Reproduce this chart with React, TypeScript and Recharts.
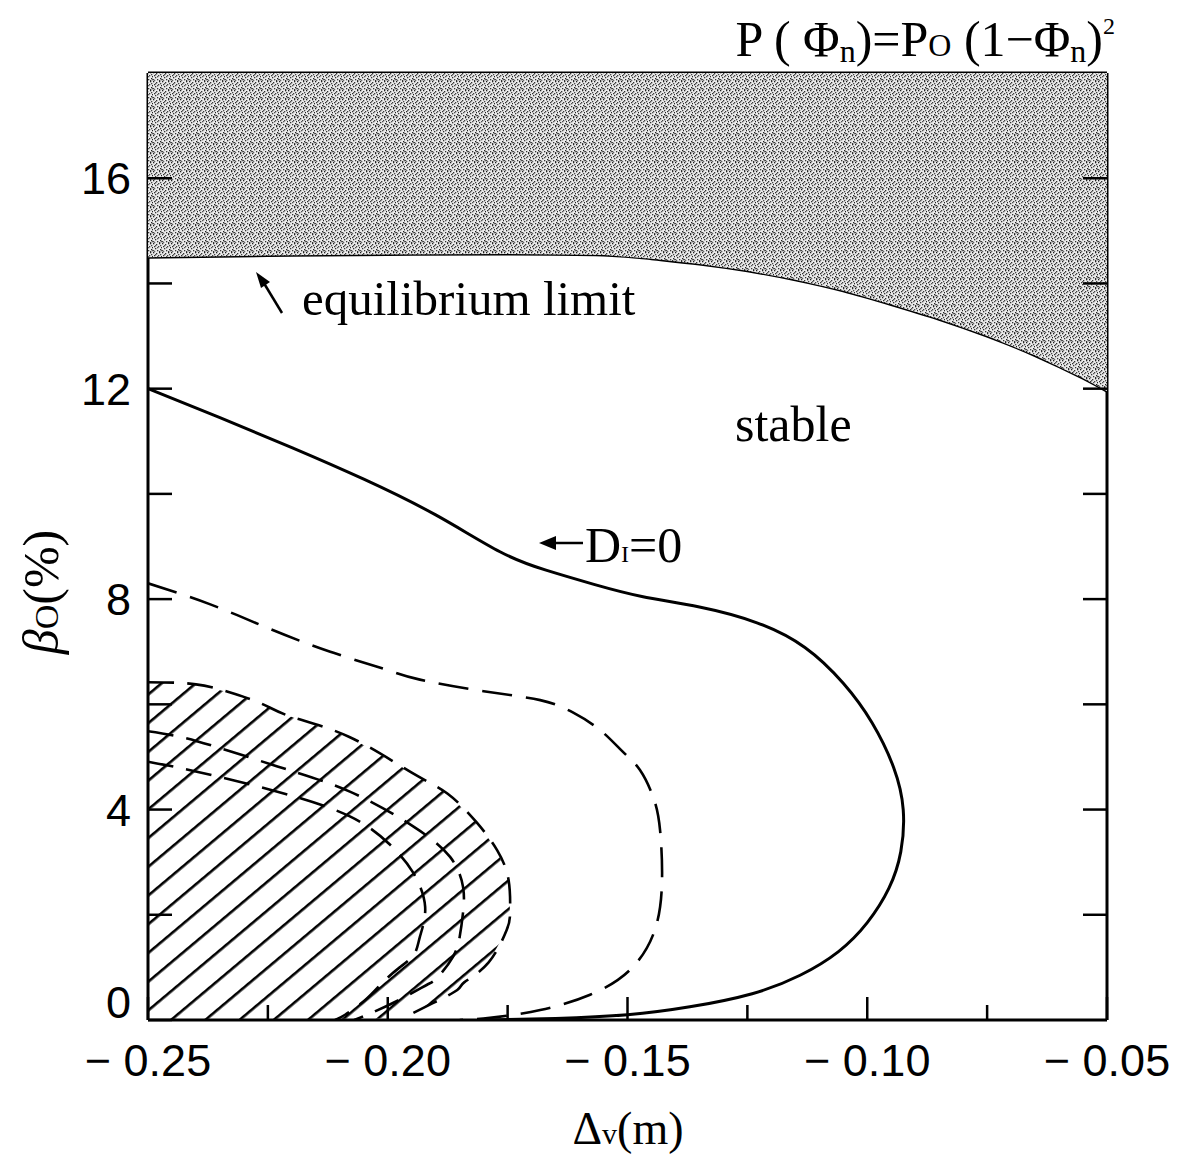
import React from 'react';
import { ComposedChart, XAxis, YAxis, Line, Scatter, ReferenceLine } from 'recharts';

// ---- data ----
const xTicks = [-0.25, -0.225, -0.2, -0.175, -0.15, -0.125, -0.1, -0.075, -0.05];
const xLabelTicks = [-0.25, -0.2, -0.15, -0.1, -0.05];
const xTickText = ['− 0.25', '− 0.20', '− 0.15', '− 0.10', '− 0.05'];
const yTicks = [0, 2, 4, 6, 8, 10, 12, 14, 16];
const yLabelTicks = [0, 4, 8, 12, 16];

const equilibriumLimit = [
  { x: -0.25, y: 14.5 }, { x: -0.225, y: 14.53 }, { x: -0.2, y: 14.55 }, { x: -0.175, y: 14.56 },
  { x: -0.155, y: 14.54 }, { x: -0.145, y: 14.47 }, { x: -0.135, y: 14.37 }, { x: -0.125, y: 14.24 },
  { x: -0.115, y: 14.07 }, { x: -0.105, y: 13.86 }, { x: -0.095, y: 13.6 }, { x: -0.085, y: 13.32 },
  { x: -0.075, y: 13.0 }, { x: -0.065, y: 12.63 }, { x: -0.055, y: 12.2 }, { x: -0.05, y: 11.95 },
];
const unstableTopCorners = [{ x: -0.05, y: 18 }, { x: -0.25, y: 18 }];

const diZero = [
  { x: -0.25, y: 12.0 }, { x: -0.235, y: 11.45 }, { x: -0.22, y: 10.88 }, { x: -0.205, y: 10.28 },
  { x: -0.19, y: 9.6 }, { x: -0.1766, y: 8.9 }, { x: -0.167, y: 8.55 }, { x: -0.157, y: 8.28 },
  { x: -0.147, y: 8.05 }, { x: -0.135, y: 7.85 }, { x: -0.123, y: 7.55 }, { x: -0.113, y: 7.08 },
  { x: -0.105, y: 6.4 }, { x: -0.099, y: 5.65 }, { x: -0.0945, y: 4.8 }, { x: -0.0925, y: 4.0 },
  { x: -0.093, y: 3.2 }, { x: -0.0955, y: 2.5 }, { x: -0.1, y: 1.85 }, { x: -0.106, y: 1.3 },
  { x: -0.114, y: 0.85 }, { x: -0.124, y: 0.5 }, { x: -0.137, y: 0.25 }, { x: -0.15, y: 0.1 },
  { x: -0.165, y: 0.03 }, { x: -0.18, y: 0 },
];

const longDash = [
  { x: -0.25, y: 8.3 }, { x: -0.237, y: 7.9 }, { x: -0.225, y: 7.45 }, { x: -0.212, y: 7.0 },
  { x: -0.2, y: 6.65 }, { x: -0.1933, y: 6.47 }, { x: -0.18, y: 6.25 }, { x: -0.1682, y: 6.08 },
  { x: -0.1615, y: 5.85 }, { x: -0.1557, y: 5.51 }, { x: -0.151, y: 5.1 }, { x: -0.1474, y: 4.75 },
  { x: -0.1445, y: 4.2 }, { x: -0.1432, y: 3.6 }, { x: -0.1428, y: 2.66 }, { x: -0.1443, y: 1.71 },
  { x: -0.1495, y: 0.95 }, { x: -0.1578, y: 0.48 }, { x: -0.1682, y: 0.19 }, { x: -0.1787, y: 0.04 },
  { x: -0.185, y: 0 },
];

const hatchBoundary = [
  { x: -0.25, y: 6.42 }, { x: -0.24, y: 6.38 }, { x: -0.232, y: 6.2 }, { x: -0.226, y: 6.0 },
  { x: -0.22, y: 5.76 }, { x: -0.208, y: 5.38 }, { x: -0.195, y: 4.7 }, { x: -0.1875, y: 4.3 },
  { x: -0.1815, y: 3.76 }, { x: -0.1772, y: 3.23 }, { x: -0.1748, y: 2.66 }, { x: -0.1745, y: 2.03 },
  { x: -0.1752, y: 1.71 }, { x: -0.179, y: 1.09 }, { x: -0.184, y: 0.72 }, { x: -0.1855, y: 0.57 },
  { x: -0.1906, y: 0.32 }, { x: -0.197, y: 0.03 },
];
const hatchCorner = [{ x: -0.25, y: 0 }];

const innerA = [
  { x: -0.25, y: 5.49 }, { x: -0.2398, y: 5.3 }, { x: -0.223, y: 4.82 }, { x: -0.2079, y: 4.34 },
  { x: -0.1947, y: 3.68 }, { x: -0.187, y: 3.1 }, { x: -0.1843, y: 2.53 }, { x: -0.1843, y: 2.04 },
  { x: -0.185, y: 1.58 }, { x: -0.1864, y: 1.2 }, { x: -0.1895, y: 0.82 }, { x: -0.1918, y: 0.67 },
  { x: -0.1968, y: 0.42 }, { x: -0.203, y: 0.15 }, { x: -0.207, y: 0 },
];
const innerB = [
  { x: -0.25, y: 4.91 }, { x: -0.2398, y: 4.72 }, { x: -0.223, y: 4.34 }, { x: -0.2079, y: 3.87 },
  { x: -0.1995, y: 3.33 }, { x: -0.1947, y: 2.8 }, { x: -0.1922, y: 2.15 }, { x: -0.1933, y: 1.58 },
  { x: -0.1945, y: 1.25 }, { x: -0.1975, y: 1.0 }, { x: -0.201, y: 0.72 }, { x: -0.2047, y: 0.38 },
  { x: -0.2089, y: 0.1 }, { x: -0.211, y: 0 },
];

const SANS = "'Liberation Sans', Arial, sans-serif";
const SERIF = "'Liberation Serif', 'Times New Roman', serif";

const isIn = (arr: number[], v: number) => arr.some((t) => Math.abs(t - v) < 1e-9);

const XTick = (props: any) => {
  const { x, y, payload } = props;
  const v = payload.value;
  const idx = xLabelTicks.findIndex((t) => Math.abs(t - v) < 1e-9);
  const major = idx >= 0;
  return (
    <g>
      <line x1={x} y1={y} x2={x} y2={y - (major ? 23 : 15)} stroke="#000" strokeWidth={2.5} />
      {major && (
        <text x={x} y={y + 56} textAnchor="middle" fontFamily={SANS} fontSize={45} fill="#000">
          {xTickText[idx]}
        </text>
      )}
    </g>
  );
};

const YTickLeft = (props: any) => {
  const { x, y, payload } = props;
  const v = payload.value;
  const major = isIn(yLabelTicks, v);
  return (
    <g>
      <line x1={x} y1={y} x2={x + 24} y2={y} stroke="#000" strokeWidth={2.5} />
      {major && (
        <text x={x - 17} y={y + (v === 0 ? -2 : 16)} textAnchor="end" fontFamily={SANS} fontSize={45} fill="#000">
          {String(v)}
        </text>
      )}
    </g>
  );
};

const YTickRight = (props: any) => {
  const { x, y } = props;
  return <line x1={x} y1={y} x2={x - 24} y2={y} stroke="#000" strokeWidth={2.5} />;
};

const noShape = () => <g />;

// stipple dot layout for the shaded (unstable) region pattern tile
const stippleDots: [number, number, string][] = [
  [0, 0, '#222'], [3, 1, '#333'], [6, 0, '#222'], [1, 3, '#333'], [5, 3, '#444'], [8, 4, '#222'],
  [2, 5, '#333'], [7, 6, '#222'], [4, 7, '#333'], [0, 7, '#444'], [6, 8, '#333'], [4, 4, '#555'],
  [2, 2, '#555'], [7, 2, '#444'], [1, 8, '#666'], [8, 7, '#555'],
];

export default function App() {
  return (
    <div style={{ position: 'absolute', left: 0, top: 0, width: 1177, height: 1160, background: '#fff' }}>
      <svg width={0} height={0} style={{ position: 'absolute' }}>
        <defs>
          <pattern id="stipple" patternUnits="userSpaceOnUse" width={9} height={9}>
            <rect width={9} height={9} fill="#ebebeb" />
            {stippleDots.map(([dx, dy, c], i) => (
              <rect key={i} x={dx} y={dy} width={1.3} height={1.3} fill={c} />
            ))}
          </pattern>
          <pattern id="hatch" patternUnits="userSpaceOnUse" width={22} height={22} patternTransform="rotate(-40)">
            <rect x={0} y={10} width={22} height={2.6} fill="#000" />
          </pattern>
        </defs>
      </svg>
      <ComposedChart width={1177} height={1160} margin={{ top: 73, right: 69, bottom: 0, left: 0 }}>
        <XAxis
          type="number"
          dataKey="x"
          domain={[-0.25, -0.05]}
          ticks={xTicks}
          interval={0}
          allowDataOverflow
          height={140}
          tickSize={0}
          tickMargin={0}
          tickLine={false}
          tick={<XTick />}
          axisLine={{ stroke: '#000', strokeWidth: 3 }}
        />
        <YAxis
          type="number"
          dataKey="y"
          domain={[0, 18]}
          ticks={yTicks}
          interval={0}
          allowDataOverflow
          width={148}
          tickSize={0}
          tickMargin={0}
          tickLine={false}
          tick={<YTickLeft />}
          axisLine={{ stroke: '#000', strokeWidth: 3 }}
        />
        <YAxis
          yAxisId="r"
          orientation="right"
          type="number"
          domain={[0, 18]}
          ticks={yTicks.slice(1)}
          interval={0}
          allowDataOverflow
          width={1}
          tickSize={0}
          tickMargin={0}
          tickLine={false}
          tick={<YTickRight />}
          axisLine={{ stroke: '#000', strokeWidth: 3 }}
        />
        <Scatter
          data={[...equilibriumLimit, ...unstableTopCorners]}
          dataKey="y"
          shape={noShape}
          line={{ stroke: 'none', fill: 'url(#stipple)' }}
          lineType="joint"
          isAnimationActive={false}
        />
        <Scatter
          data={[...hatchBoundary, ...hatchCorner]}
          dataKey="y"
          shape={noShape}
          line={{ stroke: 'none', fill: 'url(#hatch)' }}
          lineType="joint"
          isAnimationActive={false}
        />
        <Line data={equilibriumLimit} dataKey="y" type="natural" stroke="#000" strokeWidth={3} dot={false} activeDot={false} isAnimationActive={false} />
        <Line data={diZero} dataKey="y" type="natural" stroke="#000" strokeWidth={3} dot={false} activeDot={false} isAnimationActive={false} />
        <Line data={longDash} dataKey="y" type="natural" stroke="#000" strokeWidth={2.6} strokeDasharray="30 14" dot={false} activeDot={false} isAnimationActive={false} />
        <Line data={hatchBoundary} dataKey="y" type="natural" stroke="#000" strokeWidth={2.6} strokeDasharray="26 13" dot={false} activeDot={false} isAnimationActive={false} />
        <Line data={innerA} dataKey="y" type="natural" stroke="#000" strokeWidth={2.6} strokeDasharray="26 13" dot={false} activeDot={false} isAnimationActive={false} />
        <Line data={innerB} dataKey="y" type="natural" stroke="#000" strokeWidth={2.6} strokeDasharray="26 13" dot={false} activeDot={false} isAnimationActive={false} />
        <ReferenceLine y={18} stroke="#000" strokeWidth={3} ifOverflow="visible" />
      </ComposedChart>
      <svg width={1177} height={1160} style={{ position: 'absolute', left: 0, top: 0, pointerEvents: 'none' }}>
        <text x={1115} y={56} textAnchor="end" fontFamily={SERIF} fontSize={50} fill="#000">
          P ( Φ<tspan fontSize={32} dy={6}>n</tspan>
          <tspan dy={-6}>)=P</tspan>
          <tspan fontSize={32}>O</tspan>
          <tspan> (1−Φ</tspan>
          <tspan fontSize={32} dy={6}>n</tspan>
          <tspan dy={-6}>)</tspan>
          <tspan fontSize={24} dy={-22}>2</tspan>
        </text>
        <line x1={282} y1={313} x2={262} y2={280} stroke="#000" strokeWidth={2.5} />
        <path d="M256,272 L270,282 L261,288 Z" fill="#000" />
        <text x={302} y={315} fontFamily={SERIF} fontSize={49} fill="#000">equilibrium limit</text>
        <text x={735} y={441} fontFamily={SERIF} fontSize={50} fill="#000">stable</text>
        <line x1={552} y1={543} x2={583} y2={543} stroke="#000" strokeWidth={2.5} />
        <path d="M539,543 L556,536 L556,550 Z" fill="#000" />
        <text x={585} y={562} fontFamily={SERIF} fontSize={50} fill="#000">
          D<tspan fontSize={24}>I</tspan>
          <tspan>=0</tspan>
        </text>
        <text x={628} y={1144} textAnchor="middle" fontFamily={SERIF} fontSize={46} fill="#000">
          Δ<tspan fontSize={30}>v</tspan>
          <tspan>(m)</tspan>
        </text>
        <text transform="translate(58,592) rotate(-90)" textAnchor="middle" fontFamily={SERIF} fontSize={50} fill="#000">
          <tspan fontStyle="italic">β</tspan>
          <tspan fontSize={34}>O</tspan>
          <tspan>(%)</tspan>
        </text>
      </svg>
    </div>
  );
}
